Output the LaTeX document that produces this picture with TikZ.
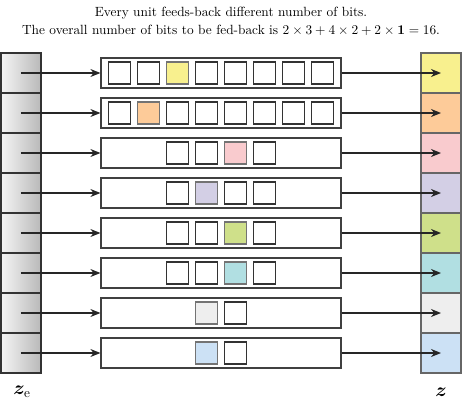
\documentclass[tikz,border=0pt]{standalone}
\usepackage{amsmath,bm}
\usetikzlibrary{arrows.meta}

\definecolor{cyellow}{HTML}{F8F08E}
\definecolor{corange}{HTML}{FDCB99}
\definecolor{cpink}{HTML}{F9CBCE}
\definecolor{cpurple}{HTML}{D3CFE5}
\definecolor{cgreen}{HTML}{CFE08A}
\definecolor{cteal}{HTML}{B1DFE2}
\definecolor{cgray}{HTML}{EEEEEE}
\definecolor{cblue}{HTML}{CCE1F5}

\tikzset{
	zecell/.style={draw=black!80, line width=0.9pt, minimum width=30pt, minimum height=30pt,
		left color=gray!8, right color=gray!55, inner sep=0pt},
	zcell/.style={draw=black!60, line width=0.9pt, minimum width=30pt, minimum height=30pt, inner sep=0pt},
	unitbox/.style={draw=black!75, line width=0.9pt, minimum width=180pt, minimum height=22.5pt, inner sep=0pt},
	bitbox/.style={draw=black!80, line width=0.9pt, minimum size=16.5pt, inner sep=0pt},
	feed/.style={-{Stealth[length=7.5pt,width=6pt]}, line width=0.9pt, black!85}
}

\begin{document}
\begin{tikzpicture}[x=0.75pt,y=-0.75pt]
	\useasboundingbox (0,0) rectangle (462,404);
	\node (title) at (231,13) {Every unit feeds-back different number of bits.};
	\node (total) at (231,30) {The overall number of bits to be fed-back is $2\times3+4\times2+2\times\bm{1}=16$.};
	% rows: number of bits / coloured bit / colour
	\foreach \i/\n/\k/\c in {1/8/3/cyellow, 2/8/2/corange, 3/4/3/cpink, 4/4/2/cpurple,
		5/4/3/cgreen, 6/4/3/cteal, 7/2/1/cgray, 8/2/1/cblue}
	{
		\node[zecell] (ze\i) at (21,33+40*\i) {};
		\node[zcell, fill=\c] (z\i) at (441,33+40*\i) {};
		\node[unitbox] (u\i) at (221,33+40*\i) {};
		\foreach \j in {1,...,\n}
			\node[bitbox, fill=white] (b\i\j) at (221+29*\j-14.5*\n-14.5,33+40*\i) {};
		\node[bitbox, fill=\c, draw=black!55] (b\i\k) at (221+29*\k-14.5*\n-14.5,33+40*\i) {};
		\draw[feed] (ze\i.center) -- (u\i.west);
		\draw[feed] (u\i.east) -- (z\i.center);
	}
	\node[font=\Large] (zelabel) at (22,392) {$\bm{z}_{\mathrm{e}}$};
	\node[font=\Large] (zlabel) at (441,392) {$\bm{z}$};
\end{tikzpicture}
\end{document}
